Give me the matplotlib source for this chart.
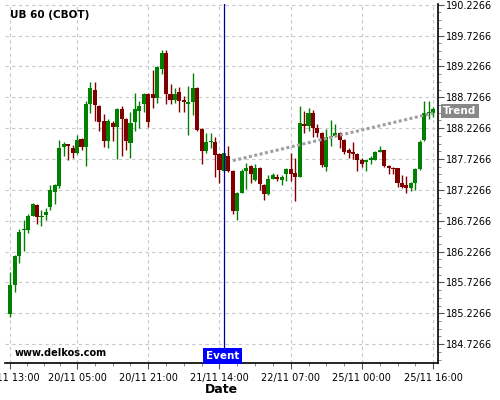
import numpy as np
import matplotlib
matplotlib.use("Agg")
import matplotlib.pyplot as plt
import matplotlib.transforms as mtransforms

# hourly candles
opens = [185.216, 185.684, 186.151, 186.576, 186.576, 186.807, 186.974, 186.791, 186.818, 186.947,
         187.189, 187.286, 187.915, 187.968, 187.904, 187.818, 188.055, 187.915, 188.614, 188.840,
         188.587, 188.345, 188.012, 188.313, 188.253, 188.538, 188.377, 187.979, 188.318, 188.506,
         188.624, 188.775, 188.775, 188.721, 189.189, 189.442, 188.775, 188.689, 188.813, 188.678,
         188.624, 188.651, 188.877, 188.216, 187.850, 188.001, 188.006, 187.807, 187.538, 187.780,
         187.538, 186.882, 187.183, 187.538, 187.619, 187.388, 187.581, 187.313, 187.161, 187.409,
         187.441, 187.388, 187.484, 187.570, 187.506, 187.441, 188.291, 188.259, 188.474, 188.221,
         188.151, 187.592, 188.081, 188.092, 188.146, 188.038, 187.866, 187.845, 187.813, 187.716,
         187.684, 187.705, 187.716, 187.845, 187.866, 187.619, 187.576, 187.576, 187.340, 187.307,
         187.253, 187.340, 187.565, 188.038, 188.468, 188.479]
highs = [185.899, 186.178, 186.598, 186.732, 186.839, 187.012, 186.990, 186.904, 186.931, 187.313,
         187.323, 188.038, 188.001, 187.974, 187.958, 188.119, 188.065, 188.668, 188.969, 188.969,
         188.598, 188.463, 188.372, 188.345, 188.549, 188.582, 188.388, 188.495, 188.802, 188.668,
         188.802, 188.802, 189.173, 189.227, 189.485, 189.485, 188.936, 188.872, 188.899, 188.748,
         188.909, 189.119, 188.888, 188.227, 188.141, 188.141, 188.076, 187.818, 187.829, 187.942,
         187.549, 187.194, 187.560, 187.657, 187.635, 187.646, 187.592, 187.323, 187.463, 187.506,
         187.484, 187.463, 187.581, 187.818, 187.743, 188.581, 188.506, 188.560, 188.527, 188.291,
         188.162, 188.205, 188.366, 188.297, 188.157, 188.049, 187.909, 187.995, 187.823, 187.737,
         187.716, 187.770, 187.856, 187.931, 187.877, 187.630, 187.598, 187.587, 187.468, 187.447,
         187.350, 187.576, 188.038, 188.673, 188.673, 188.576]
lows = [185.162, 185.565, 186.033, 186.237, 186.528, 186.797, 186.678, 186.646, 186.743, 186.904,
        187.001, 187.253, 187.780, 187.711, 187.743, 187.807, 187.872, 187.619, 188.474, 188.345,
        188.184, 187.915, 187.904, 188.022, 187.727, 187.780, 187.872, 187.743, 188.184, 188.227,
        188.495, 188.237, 188.549, 188.641, 189.108, 188.614, 188.614, 188.641, 188.495, 188.495,
        188.108, 188.442, 188.173, 187.646, 187.818, 187.904, 187.442, 187.334, 187.511, 187.511,
        186.839, 186.742, 187.172, 187.237, 187.345, 187.366, 187.226, 187.065, 187.140, 187.398,
        187.377, 187.312, 187.377, 187.366, 187.044, 187.431, 188.140, 188.173, 188.087, 188.076,
        187.592, 187.528, 187.936, 188.081, 187.909, 187.802, 187.737, 187.727, 187.533, 187.598,
        187.533, 187.651, 187.705, 187.834, 187.598, 187.490, 187.479, 187.275, 187.264, 187.178,
        187.210, 187.232, 187.554, 188.017, 188.372, 188.415]
closes = [185.684, 186.151, 186.539, 186.587, 186.807, 187.001, 186.786, 186.807, 186.872, 187.216,
          187.313, 187.909, 187.968, 187.942, 187.818, 188.038, 187.915, 188.614, 188.872, 188.598,
          188.323, 188.012, 188.345, 188.253, 188.538, 188.377, 188.012, 188.313, 188.538, 188.582,
          188.775, 188.318, 188.721, 189.216, 189.442, 188.786, 188.689, 188.775, 188.668, 188.651,
          188.651, 188.877, 188.194, 187.850, 188.006, 188.012, 187.791, 187.549, 187.818, 187.538,
          186.882, 187.183, 187.538, 187.581, 187.484, 187.581, 187.318, 187.161, 187.409, 187.468,
          187.409, 187.441, 187.570, 187.484, 187.441, 188.313, 188.259, 188.474, 188.227, 188.151,
          187.624, 188.087, 188.097, 188.146, 188.038, 187.845, 187.823, 187.813, 187.716, 187.651,
          187.705, 187.737, 187.845, 187.866, 187.619, 187.576, 187.565, 187.340, 187.275, 187.253,
          187.340, 187.565, 187.995, 188.468, 188.490, 188.533]

tick_pos = [0, 15, 31, 47, 63, 79, 95]
tick_labels = ["19/11 13:00", "20/11 05:00", "20/11 21:00", "21/11 14:00",
               "22/11 07:00", "25/11 00:00", "25/11 16:00"]
event_idx = 48
trend_x = [50, 95]
trend_y = [187.70, 188.47]

o = np.array(opens)
h = np.array(highs)
l = np.array(lows)
c = np.array(closes)
x = np.arange(len(o))
up = c >= o
colors = np.where(up, "#008000", "#800000")

fig = plt.figure(figsize=(5, 4), dpi=100)
ax = fig.add_axes([0.01, 0.0925, 0.866, 0.8975])

# grid first so candles sit on top
ax.set_axisbelow(True)
ax.grid(True, which="major", color="#c8c8c8", linestyle=(0, (3, 3)), linewidth=0.8)

# wicks and bodies
ax.vlines(x, l, h, colors=colors, linewidth=1.0, zorder=2)
body_h = np.maximum(np.abs(c - o), 0.014)
ax.bar(x, body_h, bottom=np.minimum(o, c), width=0.92, color=colors, linewidth=0, zorder=3)

# trend line
ax.plot(trend_x, trend_y, color="#a0a0a0", linestyle=(0, (1, 0.8)), linewidth=2.2, zorder=4)

# event marker
ax.axvline(event_idx, color="#0000a0", linewidth=0.9, zorder=5)

ax.set_xlim(-1.2, 96.1)
ax.set_ylim(184.42, 190.2266 + 0.012)

yt = 184.7266 + 0.5 * np.arange(12)
ax.set_yticks(yt)
ax.set_yticklabels([f"{v:.4f}" for v in yt])
ax.set_yticks(np.arange(184.7266 - 0.25, 190.2, 0.125), minor=True)
ax.yaxis.tick_right()

ax.set_xticks(tick_pos)
ax.set_xticklabels(tick_labels)
minor_x = []
for a, b in zip(tick_pos[:-1], tick_pos[1:]):
    minor_x += list(np.linspace(a, b, 5)[1:-1])
ax.set_xticks(minor_x, minor=True)

ax.tick_params(axis="both", which="major", length=4, width=0.8, labelsize=7, color="#555555")
ax.tick_params(axis="both", which="minor", length=2, width=0.6, color="#777777")
ax.tick_params(axis="y", pad=2)
ax.tick_params(axis="x", pad=3)

for s in ["left", "top"]:
    ax.spines[s].set_visible(False)
for s in ["right", "bottom"]:
    ax.spines[s].set_linewidth(1.2)
    ax.spines[s].set_color("black")

ax.set_xlabel("Date", fontsize=9, fontweight="bold", labelpad=0)

ax.text(0.012, 0.969, "UB 60 (CBOT)", transform=ax.transAxes, fontsize=7.5,
        fontweight="bold", va="center", ha="left")
ax.text(0.023, 0.028, "www.delkos.com", transform=ax.transAxes, fontsize=7,
        fontweight="bold", va="center", ha="left")

# event label sitting on the bottom axis
trans = mtransforms.blended_transform_factory(ax.transData, ax.transAxes)
ax.text(event_idx - 0.3, 0.005, "Event", transform=trans, ha="center", va="bottom",
        fontsize=7.5, fontweight="bold", color="white", zorder=6,
        bbox=dict(boxstyle="square,pad=0.3", facecolor="#0000ff", edgecolor="none"))

# trend label on the price axis
trans2 = mtransforms.blended_transform_factory(ax.transAxes, ax.transData)
ax.text(1.012, trend_y[-1] + 0.03, "Trend", transform=trans2, ha="left", va="center",
        fontsize=7.5, fontweight="bold", color="white", clip_on=False,
        bbox=dict(boxstyle="square,pad=0.2", facecolor="#888888", edgecolor="none"))

fig.savefig("out.png", dpi=100)
